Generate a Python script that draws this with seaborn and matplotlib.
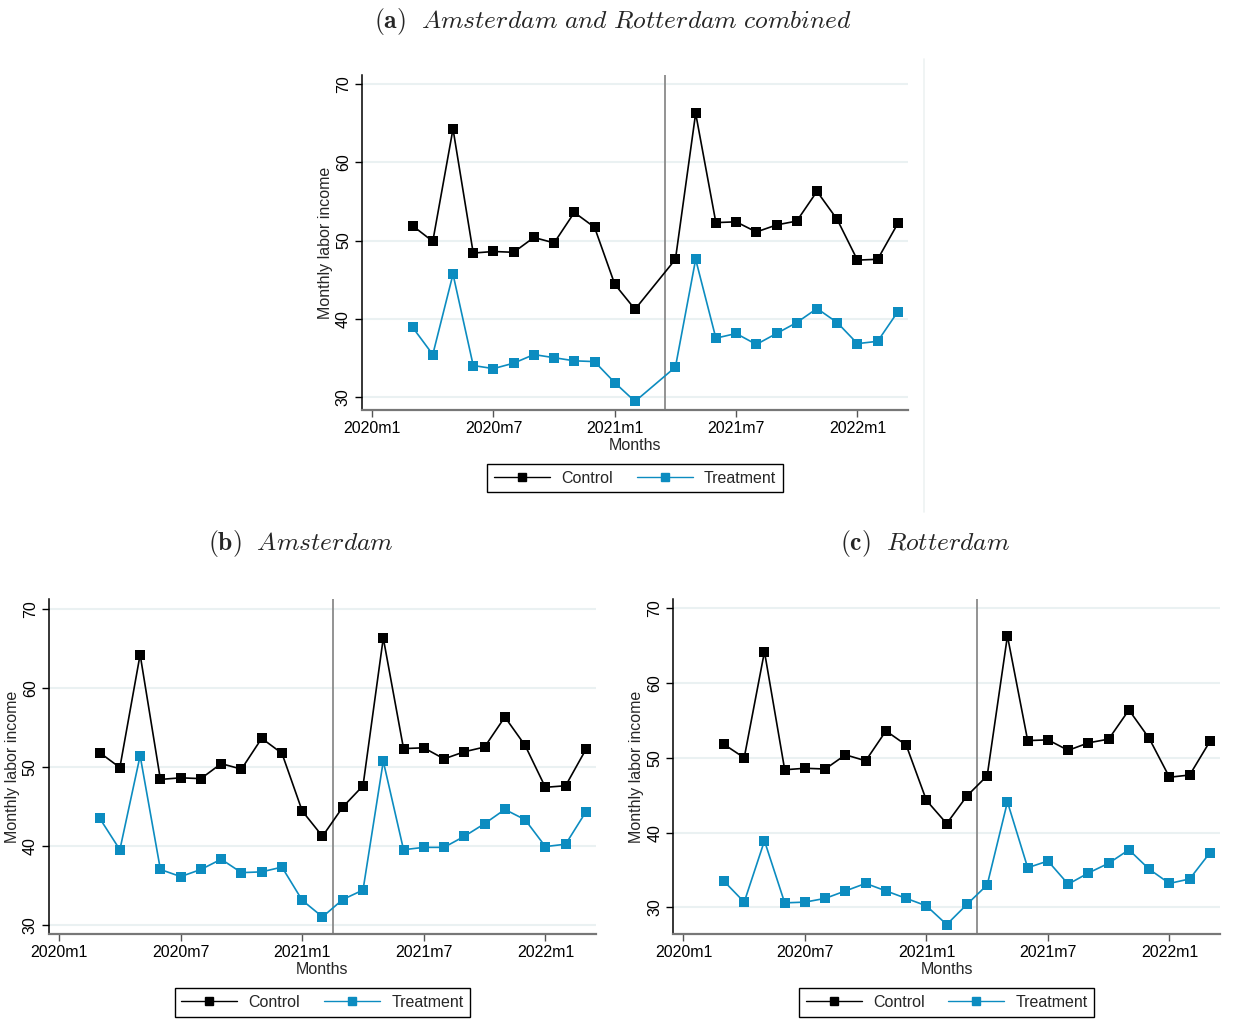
import numpy as np
import pandas as pd
import matplotlib
matplotlib.use("agg")
import matplotlib.pyplot as plt
from matplotlib.lines import Line2D
import seaborn as sns

# month index: 0 = 2020m1
months = [2, 3, 4, 5, 6, 7, 8, 9, 10, 11, 12, 13, 14,
          15, 16, 17, 18, 19, 20, 21, 22, 23, 24, 25, 26]
tick_pos = [0, 6, 12, 18, 24]
tick_labels = ["2020m1", "2020m7", "2021m1", "2021m7", "2022m1"]

nan = np.nan
comb_control = [51.9, 49.9, 64.3, 48.4, 48.6, 48.5, 50.4, 49.7, 53.6, 51.7, 44.4, 41.2, nan,
                47.6, 66.3, 52.3, 52.4, 51.1, 52.0, 52.5, 56.3, 52.7, 47.5, 47.6, 52.2]
comb_treat = [38.9, 35.4, 45.7, 34.0, 33.6, 34.3, 35.4, 35.0, 34.6, 34.5, 31.8, 29.4, nan,
              33.8, 47.6, 37.5, 38.1, 36.7, 38.1, 39.5, 41.3, 39.5, 36.8, 37.1, 40.9]
ams_control = [51.8, 49.9, 64.2, 48.4, 48.6, 48.5, 50.4, 49.7, 53.6, 51.7, 44.4, 41.2, 44.9,
               47.6, 66.3, 52.3, 52.4, 51.0, 51.9, 52.5, 56.3, 52.7, 47.4, 47.6, 52.2]
ams_treat = [43.5, 39.5, 51.4, 37.0, 36.1, 37.0, 38.3, 36.6, 36.7, 37.3, 33.1, 31.0, 33.2,
             34.4, 50.7, 39.5, 39.8, 39.8, 41.2, 42.8, 44.6, 43.3, 39.9, 40.2, 44.3]
rot_control = [51.8, 50.0, 64.2, 48.4, 48.6, 48.5, 50.4, 49.6, 53.6, 51.7, 44.3, 41.2, 44.9,
               47.6, 66.3, 52.3, 52.4, 51.0, 52.0, 52.5, 56.4, 52.6, 47.4, 47.7, 52.2]
rot_treat = [33.5, 30.7, 38.9, 30.6, 30.7, 31.2, 32.2, 33.2, 32.2, 31.2, 30.2, 27.7, 30.4,
             33.0, 44.1, 35.3, 36.2, 33.1, 34.6, 35.9, 37.7, 35.1, 33.2, 33.8, 37.3]

BLUE = "#0c8cc0"
palette = {"Control": "black", "Treatment": BLUE}

sns.set_style("white")
plt.rcParams['font.family'] = ['Liberation Sans', 'DejaVu Sans']
plt.rcParams['mathtext.fontset'] = 'cm'

fig = plt.figure(figsize=(12.33, 10.32), dpi=100)
ax_a = fig.add_axes([0.2936, 0.6027, 0.4428, 0.3246])
ax_b = fig.add_axes([0.0397, 0.0947, 0.4437, 0.3246])
ax_c = fig.add_axes([0.5461, 0.0947, 0.4434, 0.3246])


def draw(ax, control, treat, vline, ylo):
    df = pd.DataFrame({"month": months, "Control": control, "Treatment": treat})
    long = df.melt(id_vars="month", var_name="group", value_name="income").dropna()
    sns.lineplot(data=long, x="month", y="income", hue="group", palette=palette,
                 marker="s", markersize=6.5, markeredgewidth=0, linewidth=1.2,
                 ax=ax, legend=False, zorder=3)
    ax.axvline(vline, color="#8a8a8a", lw=1.3, zorder=2)
    ax.set_xlim(-0.5, 26.5)
    ax.set_ylim(ylo, 71.2)
    ax.set_yticks([30, 40, 50, 60, 70])
    ax.set_xticks(tick_pos)
    ax.set_xticklabels(tick_labels)
    ax.grid(axis="y", color="#eaf1f2", lw=1.5)
    ax.grid(axis="x", visible=False)
    ax.set_axisbelow(True)
    for s in ["top", "right"]:
        ax.spines[s].set_visible(False)
    ax.spines["left"].set_color("black")
    ax.spines["bottom"].set_color("#777777")
    ax.spines["left"].set_linewidth(1.1)
    ax.spines["bottom"].set_linewidth(1.6)
    ax.tick_params(axis="both", direction="out", length=5, width=1,
                   labelsize=11.5, colors="black", bottom=True, left=True)
    ax.tick_params(axis="y", pad=3)
    ax.tick_params(axis="x", pad=3, color="#555555")
    for lab in ax.get_yticklabels():
        lab.set_rotation(90)
        lab.set_va("center")
    ax.set_xlabel("Months", fontsize=11.5, labelpad=1)
    ax.set_ylabel("Monthly labor income", fontsize=11.5, labelpad=2)
    handles = [Line2D([], [], color="black", marker="s", markersize=6, lw=1),
               Line2D([], [], color=BLUE, marker="s", markersize=6, lw=1)]
    ax.legend(handles, ["Control", "Treatment"], loc="upper center",
              bbox_to_anchor=(0.5, -0.137), ncol=2, fancybox=False,
              edgecolor="black", framealpha=1, fontsize=11.5,
              handlelength=3.5, columnspacing=1.5, borderpad=0.42,
              handletextpad=0.7).get_frame().set_linewidth(1.0)


draw(ax_a, comb_control, comb_treat, 14.5, 28.3)
draw(ax_b, ams_control, ams_treat, 13.5, 28.8)
draw(ax_c, rot_control, rot_treat, 14.5, 26.4)

fig.text(0.497, 0.979, r"$\mathbf{(a)}\ \ \mathit{Amsterdam\ and\ Rotterdam\ combined}$",
         ha="center", va="center", fontsize=18.4)
fig.text(0.244, 0.473, r"$\mathbf{(b)}\ \ \mathit{Amsterdam}$",
         ha="center", va="center", fontsize=18.4)
fig.text(0.750, 0.473, r"$\mathbf{(c)}\ \ \mathit{Rotterdam}$",
         ha="center", va="center", fontsize=18.4)

# faint edge of the top sub-figure
fig.add_artist(Line2D([0.7495, 0.7495], [0.504, 0.943], color="#eef2f2", lw=1.2))

fig.savefig("out.png", dpi=100)
